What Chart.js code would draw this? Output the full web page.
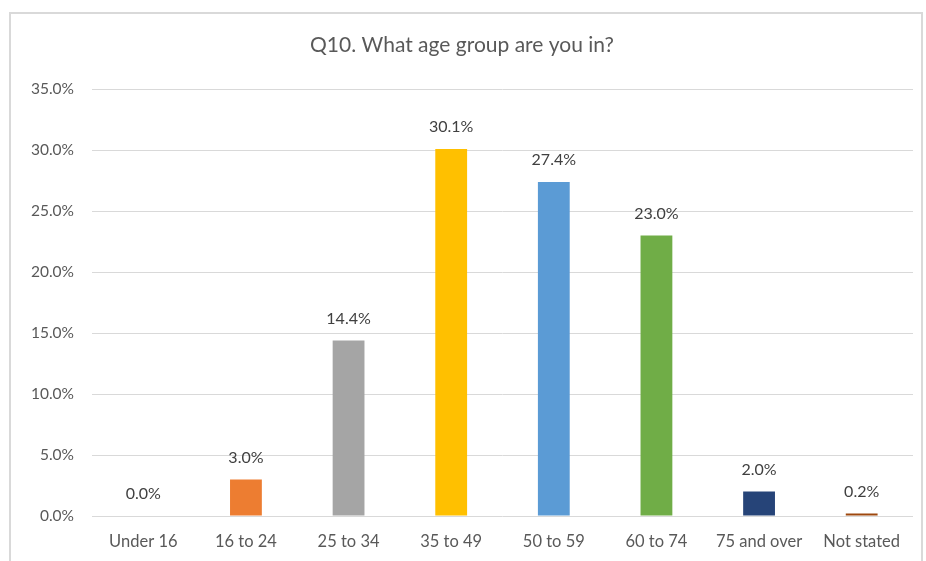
<!DOCTYPE html>
<html lang="en">
<head>
    <meta charset="UTF-8">
    <title>Q10. What age group are you in?</title>
    <script src="https://cdn.jsdelivr.net/npm/chart.js@4.4.0/dist/chart.umd.min.js"></script>
    <style>
        body, html {
            margin: 0;
            padding: 0;
            background: #ffffff;
            overflow: hidden;
        }
        #frame {
            position: absolute;
            left: 9px;
            top: 12px;
            width: 910px;
            height: 560px;
            border: 2px solid #d9d9d9;
        }
    </style>
</head>
<body>
    <div id="frame"><canvas id="myChart" width="910" height="560"></canvas></div>

    <script>
        // Chart data
        const categories = ['Under 16', '16 to 24', '25 to 34', '35 to 49', '50 to 59', '60 to 74', '75 and over', 'Not stated'];
        const percentages = [0.0, 3.0, 14.4, 30.1, 27.4, 23.0, 2.0, 0.2];
        const barColors = ['#4472C4', '#ED7D31', '#A5A5A5', '#FFC000', '#5B9BD5', '#70AD47', '#264478', '#9E480E'];
        const yTicks = [0, 5, 10, 15, 20, 25, 30, 35];

        const fontFamily = "Lato, 'Open Sans', sans-serif";

        // Draw the value above each bar
        const valueLabels = {
            id: 'valueLabels',
            afterDatasetsDraw(chart) {
                const ctx = chart.ctx;
                const meta = chart.getDatasetMeta(0);
                ctx.save();
                ctx.font = '16px ' + fontFamily;
                ctx.fillStyle = '#404040';
                ctx.textAlign = 'center';
                ctx.textBaseline = 'middle';
                meta.data.forEach((bar, i) => {
                    ctx.fillText(percentages[i].toFixed(1) + '%', bar.x, bar.y - 22);
                });
                ctx.restore();
            }
        };

        const ctx = document.getElementById('myChart').getContext('2d');
        new Chart(ctx, {
            type: 'bar',
            data: {
                labels: categories,
                datasets: [{
                    data: percentages,
                    backgroundColor: barColors,
                    barPercentage: 0.31,
                    categoryPercentage: 1.0
                }]
            },
            plugins: [valueLabels],
            options: {
                responsive: false,
                animation: false,
                layout: { padding: { left: 0, right: 8, top: 0, bottom: 0 } },
                plugins: {
                    legend: { display: false },
                    tooltip: { enabled: false },
                    title: {
                        display: true,
                        text: 'Q10. What age group are you in?',
                        color: '#595959',
                        font: { family: fontFamily, size: 21, weight: 'normal' },
                        padding: { top: 19, bottom: 31 }
                    }
                },
                scales: {
                    x: {
                        grid: { display: false, drawTicks: false },
                        border: { display: false },
                        ticks: {
                            color: '#595959',
                            font: { family: fontFamily, size: 16.5 },
                            padding: 16,
                            maxRotation: 0
                        },
                        afterFit(scale) { scale.height = 58; }
                    },
                    y: {
                        min: 0,
                        max: 35,
                        afterBuildTicks(scale) {
                            scale.ticks = yTicks.map(v => ({ value: v }));
                        },
                        grid: { color: '#d9d9d9', lineWidth: 1, drawTicks: false },
                        border: { display: false },
                        ticks: {
                            color: '#595959',
                            font: { family: fontFamily, size: 15.5 },
                            padding: 18,
                            callback: v => v.toFixed(1) + '%'
                        },
                        afterFit(scale) { scale.width = 81; }
                    }
                }
            }
        });
    </script>
</body>
</html>
